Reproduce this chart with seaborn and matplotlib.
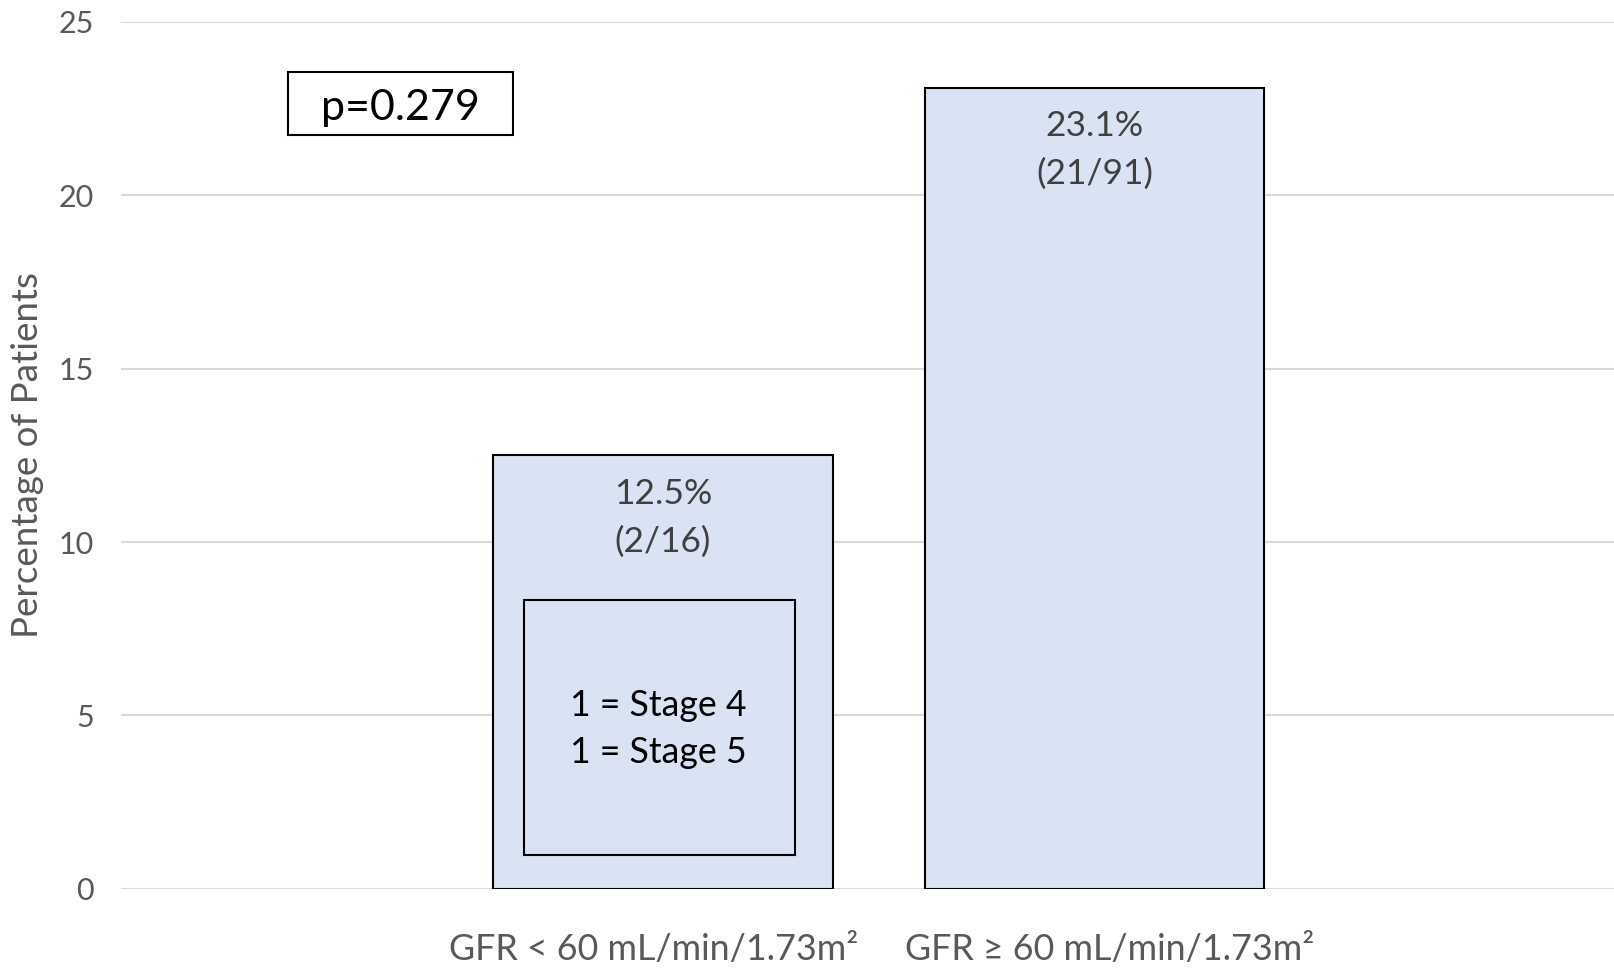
import matplotlib
matplotlib.use("Agg")
import matplotlib.pyplot as plt
import matplotlib.transforms as mtransforms
import seaborn as sns
import pandas as pd
from matplotlib.patches import Rectangle

categories = ["GFR < 60 mL/min/1.73m²", "GFR ≥ 60 mL/min/1.73m²"]
values = [12.5, 23.1]
pct_labels = ["12.5%", "23.1%"]
count_labels = ["(2/16)", "(21/91)"]
p_text = "p=0.279"
inset_lines = ["1 = Stage 4", "1 = Stage 5"]
yticks = [0, 5, 10, 15, 20, 25]

sns.set_theme(style="white")
plt.rcParams['font.family'] = ['Lato', 'DejaVu Sans']

df = pd.DataFrame({"cat": categories, "val": values})

fig = plt.figure(figsize=(16.15, 9.69), dpi=100)
ax = fig.add_axes([0.0752, 0.0826, 0.9248, 0.8951])

sns.barplot(data=df, x="cat", y="val", order=categories, color="#DAE3F3",
            saturation=1, width=0.786, edgecolor="black", linewidth=1.5,
            ax=ax, zorder=3)

ax.set_xlim(-1.255, 2.206)
ax.set_ylim(0, 25)
ax.set_yticks(yticks)
ax.set_yticklabels([str(t) for t in yticks], fontsize=22, color="#595959")
ax.grid(axis="y", color="#D9D9D9", linewidth=1.5, zorder=0)
ax.set_axisbelow(True)
for s in ax.spines.values():
    s.set_visible(False)
ax.tick_params(axis="y", length=0, pad=20)
ax.tick_params(axis="x", length=0, pad=32, labelsize=25.8, labelcolor="#595959")
ax.set_xlabel("")
ax.set_ylabel("Percentage of Patients", fontsize=26.5, color="#595959")
ax.yaxis.set_label_coords(-0.052, 0.5)

# slight horizontal offsets of the category labels (as in the reference)
for lbl, dx in zip(ax.get_xticklabels(), [-9, 15]):
    lbl.set_transform(lbl.get_transform() +
                      mtransforms.ScaledTranslation(dx / 100, 0, fig.dpi_scale_trans))

for i, v in enumerate(values):
    top = v
    ax.text(i, top - 1.12, pct_labels[i], ha="center", va="center",
            fontsize=25.5, color="#404040", zorder=5)
    ax.text(i, top - 2.48, count_labels[i], ha="center", va="center",
            fontsize=25.5, color="#404040", zorder=5)

# p-value box
ax.add_patch(Rectangle((-0.869, 21.73), 0.521, 1.82, facecolor="white",
                       edgecolor="black", linewidth=1.5, zorder=4))
ax.text(-0.609, 22.52, p_text, ha="center", va="center", fontsize=31,
        color="black", zorder=5)

# inset box within first bar
ax.add_patch(Rectangle((-0.322, 0.98), 0.628, 7.35, facecolor="#DAE3F3",
                       edgecolor="black", linewidth=1.5, zorder=4))
ax.text(-0.01, 5.29, inset_lines[0], ha="center", va="center", fontsize=25.7,
        color="black", zorder=5)
ax.text(-0.01, 3.92, inset_lines[1], ha="center", va="center", fontsize=25.7,
        color="black", zorder=5)

fig.savefig("out.png", dpi=100)
